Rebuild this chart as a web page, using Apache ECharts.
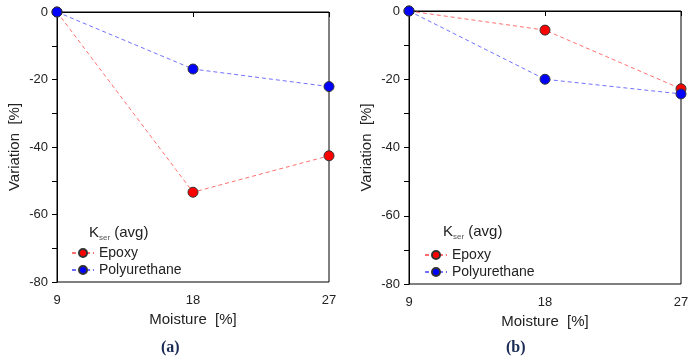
<!DOCTYPE html>
<html><head><meta charset="utf-8">
<script src="https://cdn.jsdelivr.net/npm/echarts@6/dist/echarts.min.js"></script>
<style>html,body{margin:0;padding:0;background:#fff}#c{width:694px;height:361px}</style>
</head><body><div id="c"></div>
<script>
const moisture = [9, 18, 27];
const epoxyA = [0, -53.4, -42.6];
const polyA = [0, -16.9, -22.1];
const epoxyB = [0, -5.6, -22.8];
const polyB = [0, -20.0, -24.3];
const yTicks = [0, -20, -40, -60, -80];
const panelLabels = ['(a)', '(b)'];

const font = 'Liberation Sans, Arial, sans-serif';
const chart = echarts.init(document.getElementById('c'));
const grids = [
  {left: 57, top: 12, width: 272, height: 270},
  {left: 409, top: 11, width: 272, height: 273}
];
function xAxis(i){return {
  type:'value', gridIndex:i, min:9, max:27, interval:9,
  axisLine:{show:true,lineStyle:{color:'#000',width:1}},
  axisTick:{show:true,length:5,lineStyle:{color:'#000'}},
  axisLabel:{color:'#222',fontSize:13,fontFamily:font,margin:12},
  splitLine:{show:false},
  name:'Moisture  [%]', nameLocation:'middle', nameGap:30,
  nameTextStyle:{color:'#222',fontSize:15,fontFamily:font}
};}
function yAxis(i){return {
  type:'value', gridIndex:i, min:-80, max:0, interval:10,
  axisLine:{show:true,lineStyle:{color:'#000',width:1}},
  axisTick:{show:true,length:5,lineStyle:{color:'#000'}},
  axisLabel:{color:'#222',fontSize:13,fontFamily:font,margin:9,
    formatter:v=> yTicks.indexOf(v)>=0 ? String(v) : ''},
  splitLine:{show:false},
  name:'Variation  [%]', nameLocation:'middle', nameGap:35,
  nameTextStyle:{color:'#222',fontSize:15,fontFamily:font}
};}
function ser(name, data, color, lineColor, i){return {
  name, type:'line', xAxisIndex:i, yAxisIndex:i,
  data: moisture.map((m,k)=>[m,data[k]]),
  symbol:'circle', symbolSize:10,
  itemStyle:{color:color, borderColor:'#333', borderWidth:1},
  lineStyle:{color:lineColor, width:1, type:[4,3]},
  z: 3, clip:false
};}
const legendBase = {orient:'vertical', itemWidth:22, itemHeight:10, itemGap:3,
  textStyle:{color:'#222',fontSize:14,fontFamily:font}, data:['Epoxy','Polyurethane']};
chart.setOption({
  animation:false,
  grid: grids.map(g=>Object.assign({show:true,borderColor:'#000',borderWidth:1,backgroundColor:'transparent'},g)),
  xAxis:[xAxis(0),xAxis(1)],
  yAxis:[yAxis(0),yAxis(1)],
  legend:[
    Object.assign({left:66, top:241}, legendBase),
    Object.assign({left:419, top:243}, legendBase)
  ],
  series:[
    ser('Epoxy', epoxyA, '#ff0000', '#ff6f6f', 0),
    ser('Polyurethane', polyA, '#0000ff', '#7070ff', 0),
    ser('Epoxy', epoxyB, '#ff0000', '#ff6f6f', 1),
    ser('Polyurethane', polyB, '#0000ff', '#7070ff', 1)
  ],
  graphic:[
    {type:'text', left:89, top:225, style:{rich:{m:{fontSize:15,fontFamily:font,fill:'#222'},s:{fontSize:8,fontFamily:font,fill:'#555',padding:[10,0,0,0]}}, text:'{m|K}{s|ser}{m| (avg)}'}},
    {type:'text', left:443, top:224, style:{rich:{m:{fontSize:15,fontFamily:font,fill:'#222'},s:{fontSize:8,fontFamily:font,fill:'#555',padding:[10,0,0,0]}}, text:'{m|K}{s|ser}{m| (avg)}'}},
    {type:'text', left:161, top:340, style:{text:panelLabels[0], font:'bold 16px "Liberation Serif", serif', fill:'#1a2a55'}},
    {type:'text', left:506, top:340, style:{text:panelLabels[1], font:'bold 16px "Liberation Serif", serif', fill:'#1a2a55'}}
  ]
});
</script></body></html>
